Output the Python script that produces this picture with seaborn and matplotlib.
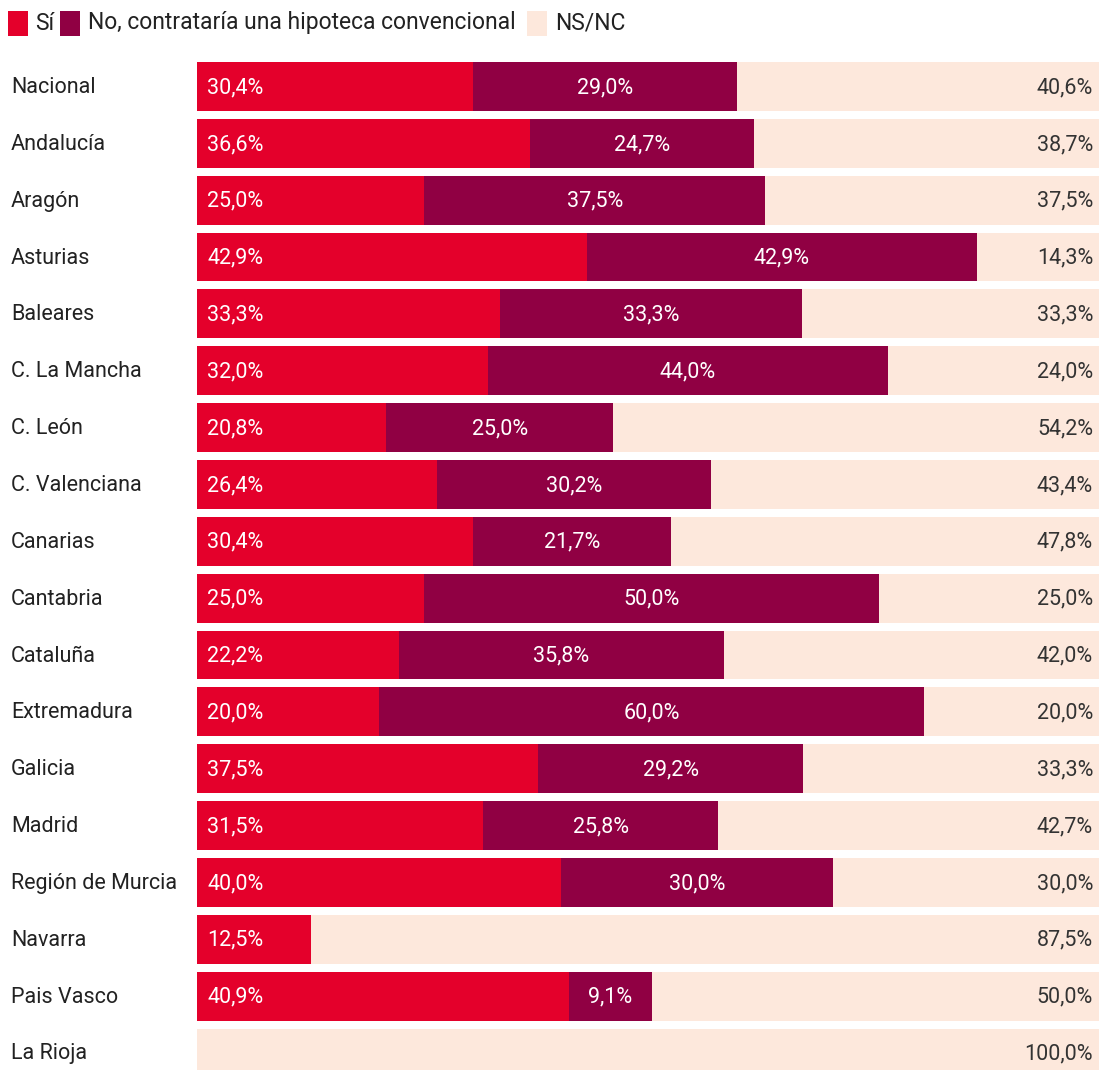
import matplotlib
matplotlib.use("Agg")
import matplotlib.pyplot as plt
from matplotlib.patches import Rectangle
import seaborn as sns
import pandas as pd
import numpy as np

regions = ["Nacional", "Andalucía", "Aragón", "Asturias", "Baleares", "C. La Mancha",
           "C. León", "C. Valenciana", "Canarias", "Cantabria", "Cataluña", "Extremadura",
           "Galicia", "Madrid", "Región de Murcia", "Navarra", "Pais Vasco", "La Rioja"]
si = [30.4, 36.6, 25.0, 42.9, 33.3, 32.0, 20.8, 26.4, 30.4, 25.0, 22.2, 20.0, 37.5, 31.5, 40.0, 12.5, 40.9, 0.0]
no = [29.0, 24.7, 37.5, 42.9, 33.3, 44.0, 25.0, 30.2, 21.7, 50.0, 35.8, 60.0, 29.2, 25.8, 30.0, 0.0, 9.1, 0.0]
nsnc = [40.6, 38.7, 37.5, 14.3, 33.3, 24.0, 54.2, 43.4, 47.8, 25.0, 42.0, 20.0, 33.3, 42.7, 30.0, 87.5, 50.0, 100.0]
series_names = ["Sí", "No, contrataría una hipoteca convencional", "NS/NC"]

C_SI = "#e4002b"
C_NO = "#900043"
C_NS = "#fde8dc"
TXT = "#333333"

sns.set_theme(style="white")
plt.rcParams["font.family"] = ["Roboto", "DejaVu Sans"]

df = pd.DataFrame({"region": regions, "si": si, "no": no, "nsnc": nsnc})
df["c_no"] = df["si"] + df["no"]
df["c_all"] = df["c_no"] + df["nsnc"]

W, H = 1099, 1070
fig = plt.figure(figsize=(W / 100, H / 100), dpi=100)
x0 = 197
scale = 9.09  # px per percent
ax = fig.add_axes([x0 / W, 0, 1 - x0 / W, 1])

pitch = 56.85
c0 = 86.5

bw = 0.86
sns.barplot(data=df, y="region", x="c_all", color=C_NS, width=bw, orient="h", ax=ax, saturation=1, linewidth=0)
sns.barplot(data=df, y="region", x="c_no", color=C_NO, width=bw, orient="h", ax=ax, saturation=1, linewidth=0)
sns.barplot(data=df, y="region", x="si", color=C_SI, width=bw, orient="h", ax=ax, saturation=1, linewidth=0)
ax.set_ylim((H - c0) / pitch, -c0 / pitch)
ax.set_xlim(0, (W - x0) / scale)

for s in ax.spines.values():
    s.set_visible(False)
ax.set_xticks([])
ax.set_yticks([])
ax.set_xlabel("")
ax.set_ylabel("")

fs = 15.5
fmt = lambda v: f"{v:.1f}%".replace(".", ",")
xr = (1093 - x0) / scale
for i, r in df.iterrows():
    if r["si"] > 0:
        ax.text(10 / scale, i + 0.02, fmt(r["si"]), color="white", fontsize=fs, ha="left", va="center")
    if r["no"] > 0:
        ax.text(r["si"] + r["no"] / 2, i + 0.02, fmt(r["no"]), color="white", fontsize=fs, ha="center", va="center")
    if r["nsnc"] > 0:
        ax.text(xr, i + 0.02, fmt(r["nsnc"]), color=TXT, fontsize=fs, ha="right", va="center")
    fig.text(11 / W, 1 - (c0 + 1 + pitch * i) / H, r["region"], color="#222222", fontsize=fs, ha="left", va="center")

# legend
ly = 23
for (lx, tx), name, col in zip([(8, 35), (60, 88), (527, 555)], series_names, [C_SI, C_NO, C_NS]):
    fig.add_artist(Rectangle((lx / W, 1 - (ly + 13) / H), 20 / W, 25 / H, transform=fig.transFigure,
                             facecolor=col, edgecolor="none"))
    fig.text(tx / W, 1 - ly / H, name, color="#222222", fontsize=16.5, ha="left", va="center")

fig.savefig("out.png", dpi=100)
